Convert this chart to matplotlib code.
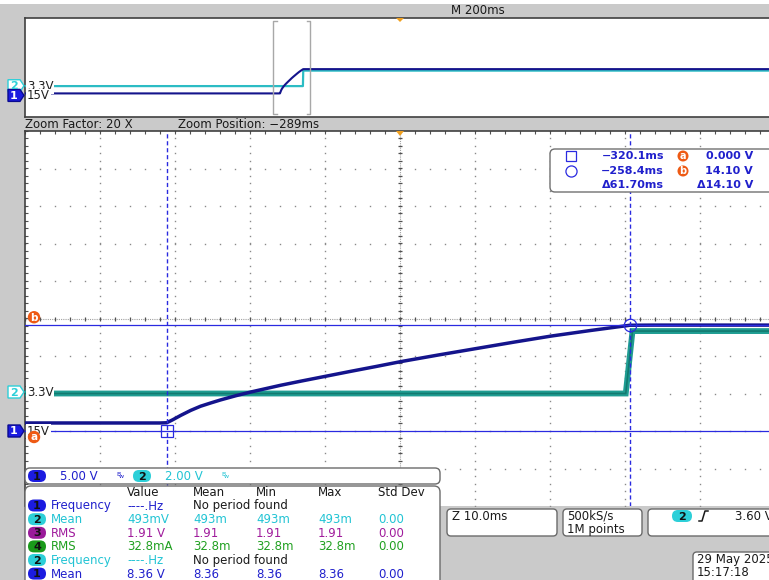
#!/usr/bin/env python3
"""Scope capture: 15 V / 3.3 V rail power-up, zoomed on the 15 V ramp. -> out.png"""
import matplotlib
matplotlib.use("Agg")
import matplotlib.pyplot as plt
import numpy as np
from matplotlib.patches import FancyBboxPatch, Polygon, Rectangle

W, H = 769, 580
plt.rcParams.update({"font.family": "DejaVu Sans", "font.size": 8})

BG = "#cacaca"; GRID = "#8a8a8a"; FRAME = "#404040"; TICK = "#505050"
CH1 = "#14148c"; CH2 = "#1f9d92"; CH2_DARK = "#137a70"; CH2_OV = "#2cbcc4"
BLUE = "#2020cc"; CYAN = "#22c4d4"; PURPLE = "#a01c9c"; GREEN = "#20a020"
PILL_BLUE = "#1b1be0"; PILL_CYAN = "#2ccfd8"; PILL_PURPLE = "#9a1a9a"; PILL_GREEN = "#1a9a1a"
TRIG = "#f0a020"; CUR_TAG = "#ee5a14"; CURSOR = "#2a2ae0"

# acquisition settings
ch1_vdiv, ch2_vdiv = 5.0, 2.0
ch1_pos, ch2_pos = -3.0, -1.96          # divisions from screen centre
ch1_label, ch2_label = "15V", "3.3V"
main_tdiv = 200.0                       # ms/div, full record
zoom_factor = 20
zoom_pos = -289.0                       # ms
zoom_tdiv = main_tdiv / zoom_factor     # ms/div in zoom window
sample_rate, rec_len = "500kS/s", "1M points"
trig_src, trig_level = "2", 3.60
stamp_date, stamp_time = "29 May 2025", "15:17:18"

# zoom window traces (ms, V)
ch1_t = [-339.0, -330.0, -321.0, -320.1, -319.3, -318.2, -316.9, -315.6, -314.2,
         -312.9, -310.9, -308.9, -306.9, -304.9, -302.2, -298.9, -295.6, -292.2,
         -288.9, -283.8, -278.8, -273.8, -268.9, -263.6, -258.5, -258.4, -255.0, -239.0]
ch1_v = [1.07, 1.07, 1.07, 1.1, 1.5, 2.1, 2.75, 3.3, 3.75,
         4.15, 4.7, 5.2, 5.65, 6.1, 6.65, 7.3, 7.95, 8.6,
         9.25, 10.15, 11.0, 11.85, 12.65, 13.4, 14.08, 14.1, 14.12, 14.12]
ch2_t = [-339.0, -258.9, -258.0, -239.0]
ch2_v = [-0.08, -0.08, 3.25, 3.25]

# cursors
cur_a_t, cur_b_t = -320.1, -258.4       # ms
cur_a_v, cur_b_v = 0.0, 14.10           # V

# measurement table
meas_src = ["1", "2", "3", "4", "2", "1"]
meas_name = ["Frequency", "Mean", "RMS", "RMS", "Frequency", "Mean"]
meas_value = ["----.Hz", "493mV", "1.91 V", "32.8mA", "----.Hz", "8.36 V"]
meas_mean = ["No period found", "493m", "1.91", "32.8m", "No period found", "8.36"]
meas_min = ["", "493m", "1.91", "32.8m", "", "8.36"]
meas_max = ["", "493m", "1.91", "32.8m", "", "8.36"]
meas_std = ["", "0.00", "0.00", "0.00", "", "0.00"]
meas_head = ["Value", "Mean", "Min", "Max", "Std Dev"]

SRC_TXT = {"1": BLUE, "2": CYAN, "3": PURPLE, "4": GREEN}
SRC_PILL = {"1": PILL_BLUE, "2": PILL_CYAN, "3": PILL_PURPLE, "4": PILL_GREEN}


def mstr(s):
    return s.replace("-", "\u2212") if not s.startswith("--") else s


fig = plt.figure(figsize=(W / 100, H / 100), dpi=100, facecolor=BG)


def rect(x0, y0, x1, y1):
    return [x0 / W, 1 - y1 / H, (x1 - x0) / W, (y1 - y0) / H]


def chan_axes(r, half, xlim):
    out = []
    for vdiv, pos in [(ch2_vdiv, ch2_pos), (ch1_vdiv, ch1_pos)]:
        a = fig.add_axes(r)
        a.set_xlim(*xlim)
        a.set_ylim((-half - pos) * vdiv, (half - pos) * vdiv)
        a.patch.set_visible(False); a.set_axis_off()
        out.append(a)
    return out


def frame(a, sides):
    a.set_xticks([]); a.set_yticks([])
    for s in a.spines:
        a.spines[s].set_visible(s in sides)
        a.spines[s].set_color(FRAME); a.spines[s].set_linewidth(1.2)


# ---- overview (full record) ----
OVR = rect(25, 18, 775, 117)
og = fig.add_axes(OVR, facecolor="white"); frame(og, ("left", "top", "bottom"))
ov_half = 99 / 9.3 / 2
o2, o1 = chan_axes(OVR, ov_half, (-5 * main_tdiv, 5 * main_tdiv))
o2.plot([-5 * main_tdiv] + ch2_t + [5 * main_tdiv], [ch2_v[0]] + ch2_v + [ch2_v[-1]],
        color=CH2_OV, lw=1.6)
o1.plot([-5 * main_tdiv] + ch1_t + [5 * main_tdiv], [ch1_v[0]] + ch1_v + [ch1_v[-1]],
        color=CH1, lw=1.5)
zx0, zx1 = zoom_pos - 5 * zoom_tdiv, zoom_pos + 5 * zoom_tdiv
serif = 0.05 * main_tdiv
xt = o1.get_xaxis_transform()
for x, d in [(zx0, 1), (zx1, -1)]:
    o1.plot([x + d * serif, x, x, x + d * serif], [0.97, 0.97, 0.03, 0.03],
            color="#a8a8a8", lw=1.0, transform=xt)

# ---- zoom window graticule ----
MAIN = rect(25, 131, 775, 506)
g = fig.add_axes(MAIN, facecolor="white"); frame(g, ("left", "top"))
g.set_xlim(-5, 5); g.set_ylim(-5, 5)
fine = np.arange(-5, 5.001, 0.2)
for k in range(-4, 5):
    if k == 0:
        continue
    g.plot(np.full_like(fine, k), fine, ls="none", marker="s", ms=1.0, mew=0, color=GRID)
    g.plot(fine, np.full_like(fine, k), ls="none", marker="s", ms=1.0, mew=0, color=GRID)
g.axvline(0, color="#a0a0a0", lw=0.8, ls=(0, (1, 1)))
g.axhline(0, color="#a0a0a0", lw=0.8, ls=(0, (1, 1)))
g.plot(np.zeros_like(fine), fine, ls="none", marker="_", ms=3.5, mew=0.9, color=TICK)
g.plot(fine, np.zeros_like(fine), ls="none", marker="|", ms=3.5, mew=0.9, color=TICK)
g.plot(np.full_like(fine, -5), fine, ls="none", marker="_", ms=4, mew=0.8, color=TICK)
g.plot(fine, np.full_like(fine, 5), ls="none", marker="|", ms=4, mew=0.8, color=TICK)

a2, a1 = chan_axes(MAIN, 5, (zx0, zx1))
a2.plot(ch2_t, ch2_v, color=CH2, lw=4.2, solid_joinstyle="miter")
a2.plot(ch2_t, ch2_v, color=CH2_DARK, lw=1.2)
a1.plot(ch1_t, ch1_v, color=CH1, lw=2.5)

# cursors
for t in (cur_a_t, cur_b_t):
    a1.axvline(t, color=CURSOR, lw=1.0, ls=(0, (3, 2)))
for v in (cur_a_v, cur_b_v):
    a1.axhline(v, color=CURSOR, lw=0.9)
a1.plot([cur_a_t], [cur_a_v], ls="none", marker="s", ms=8, mfc="none", mec=CURSOR, mew=0.9)
a1.plot([cur_b_t], [cur_b_v], ls="none", marker="o", ms=9, mfc="none", mec=CURSOR, mew=0.9)

# ---- overlay in screen pixels ----
ov = fig.add_axes([0, 0, 1, 1])
ov.set_xlim(0, W); ov.set_ylim(H, 0); ov.set_axis_off(); ov.patch.set_visible(False)


def px(a, x, y):
    return ov.transData.inverted().transform(a.transData.transform((x, y)))


def box(x0, y0, x1, y1, r=4, ec="#6a6a6a"):
    ov.add_patch(FancyBboxPatch((x0, y0), x1 - x0, y1 - y0, fc="white", ec=ec, lw=1.0,
                                boxstyle=f"round,pad=0,rounding_size={r}"))


def pill(cx, cy, num, fc, w=18, h=12):
    ov.add_patch(FancyBboxPatch((cx - w / 2, cy - h / 2), w, h, fc=fc, ec="none",
                                boxstyle=f"round,pad=0,rounding_size={h / 2}"))
    ov.text(cx, cy + 0.5, num, ha="center", va="center", fontsize=8, fontweight="bold",
            color="#101010")


def tag(y, num, fc, ec, tc):
    ov.add_patch(Polygon([(8, y - 6), (20, y - 6), (24, y), (20, y + 6), (8, y + 6)],
                         closed=True, fc=fc, ec=ec, lw=1.0))
    ov.text(14, y + 0.5, num, ha="center", va="center", color=tc, fontsize=8,
            fontweight="bold")


def chan_label(y, s):
    ov.text(27, y + 0.5, s, ha="left", va="center", fontsize=8.5, color="#202020",
            bbox=dict(fc="white", ec="none", pad=0.6))


def cur_tag(y, s):
    ov.add_patch(plt.Circle((34, y), 6.2, fc=CUR_TAG, ec="none", zorder=4))
    ov.text(34, y + 0.3, s, ha="center", va="center", color="white", fontsize=7.5,
            fontweight="bold", zorder=5)


ov.add_patch(Rectangle((0, 0), W, 4, fc="white", ec="none"))
ov.text(451, 10, f"M {main_tdiv:.0f}ms", va="center", fontsize=8.5, color="#1a1a1a")
ov.text(25, 124, f"Zoom Factor: {zoom_factor} X", va="center", fontsize=8.5, color="#1a1a1a")
ov.text(178, 124, mstr(f"Zoom Position: {zoom_pos:.0f}ms"), va="center", fontsize=8.5,
        color="#1a1a1a")

# trigger markers
tx, ty = px(o1, 0, o1.get_ylim()[1])
ov.add_patch(Polygon([(tx - 4, ty), (tx + 4, ty), (tx, ty + 4)], fc=TRIG, ec="none"))
tx, ty = px(g, 0, 5)
ov.add_patch(Polygon([(tx - 4, ty), (tx + 4, ty), (tx, ty + 5)], fc=TRIG, ec="none"))

# channel tags and labels
for a_2, a_1 in [(o2, o1), (a2, a1)]:
    y2 = px(a_2, 0, 0)[1]; y1 = px(a_1, 0, 0)[1]
    chan_label(y2, ch2_label); tag(y2, "2", "white", PILL_CYAN, PILL_CYAN)
    chan_label(y1, ch1_label); tag(y1, "1", PILL_BLUE, "#0a0a90", "white")
cur_tag(px(a1, 0, cur_a_v)[1] + 6, "a")
cur_tag(px(a1, 0, cur_b_v)[1] - 8, "b")

# cursor readout
box(550, 149, 790, 192, r=5, ec="#707070")
ov.plot([571], [156], ls="none", marker="s", ms=7, mfc="none", mec=CURSOR, mew=0.9)
ov.plot([571], [171], ls="none", marker="o", ms=8, mfc="none", mec=CURSOR, mew=0.9)
rd = dict(ha="right", va="center", fontsize=8, color=BLUE, fontweight="bold")
ov.text(664, 156, mstr(f"{cur_a_t:.1f}ms"), **rd)
ov.text(664, 171, mstr(f"{cur_b_t:.1f}ms"), **rd)
ov.text(664, 185, f"\u0394{cur_b_t - cur_a_t:.2f}ms", **rd)
ov.text(753, 156, f"{cur_a_v:.3f} V", **rd)
ov.text(753, 171, f"{cur_b_v:.2f} V", **rd)
ov.text(753, 185, f"\u0394{cur_b_v - cur_a_v:.2f} V", **rd)
for y, s in [(156, "a"), (171, "b")]:
    ov.add_patch(plt.Circle((683, y), 5.5, fc=CUR_TAG, ec="none"))
    ov.text(683, y + 0.3, s, ha="center", va="center", color="white", fontsize=7,
            fontweight="bold")

# channel scale bar
box(25, 468, 440, 484, r=5)
pill(37, 476, "1", PILL_BLUE)
ov.text(60, 476.5, f"{ch1_vdiv:.2f} V", va="center", fontsize=8.5, color=BLUE)
ov.text(116, 474, "B", va="center", fontsize=4.5, color=BLUE)
ov.text(119, 477, "w", va="center", fontsize=4.5, color=BLUE)
pill(142, 476, "2", PILL_CYAN)
ov.text(165, 476.5, f"{ch2_vdiv:.2f} V", va="center", fontsize=8.5, color=CYAN)
ov.text(221, 474, "B", va="center", fontsize=4.5, color=CYAN)
ov.text(224, 477, "w", va="center", fontsize=4.5, color=CYAN)

# measurement table
box(25, 486, 440, 600, r=6)
cols_x = [127, 193, 256, 318, 378]
rows_y = [505.5, 519.2, 532.8, 546.4, 560.0, 573.6]
for x, s in zip(cols_x, meas_head):
    ov.text(x, 492, s, va="center", fontsize=8.5, color="#1a1a1a")
for i, y in enumerate(rows_y):
    c = SRC_TXT[meas_src[i]]
    pill(37, y, meas_src[i], SRC_PILL[meas_src[i]])
    ov.text(51, y + 0.5, meas_name[i], va="center", fontsize=8.5, color=c)
    ov.text(cols_x[0], y + 0.5, meas_value[i], va="center", fontsize=8.5, color=c)
    mc = "#1a1a1a" if meas_mean[i].startswith("No") else c
    ov.text(cols_x[1], y + 0.5, meas_mean[i], va="center", fontsize=8.5, color=mc)
    for x, s in zip(cols_x[2:], (meas_min[i], meas_max[i], meas_std[i])):
        ov.text(x, y + 0.5, s, va="center", fontsize=8.5, color=c)

# horizontal / acquisition / trigger readouts
box(447, 509, 557, 536)
ov.text(452, 516, f"Z {zoom_tdiv:.1f}ms", va="center", fontsize=8.5, color="#1a1a1a")
box(563, 509, 642, 536)
ov.text(567, 516, sample_rate, va="center", fontsize=8.5, color="#1a1a1a")
ov.text(567, 529, rec_len, va="center", fontsize=8.5, color="#1a1a1a")
box(648, 509, 790, 536)
pill(682, 516, trig_src, PILL_CYAN, w=20)
ov.plot([699, 702, 705, 708], [521, 521, 511, 511], color="#1a1a1a", lw=1.1)
ov.text(735, 516, f"{trig_level:.2f} V", va="center", fontsize=8.5, color="#1a1a1a")
box(693, 552, 800, 600)
ov.text(697, 559, stamp_date, va="center", fontsize=8.5, color="#1a1a1a")
ov.text(697, 572, stamp_time, va="center", fontsize=8.5, color="#1a1a1a")

fig.savefig("out.png", dpi=100, facecolor=BG)
